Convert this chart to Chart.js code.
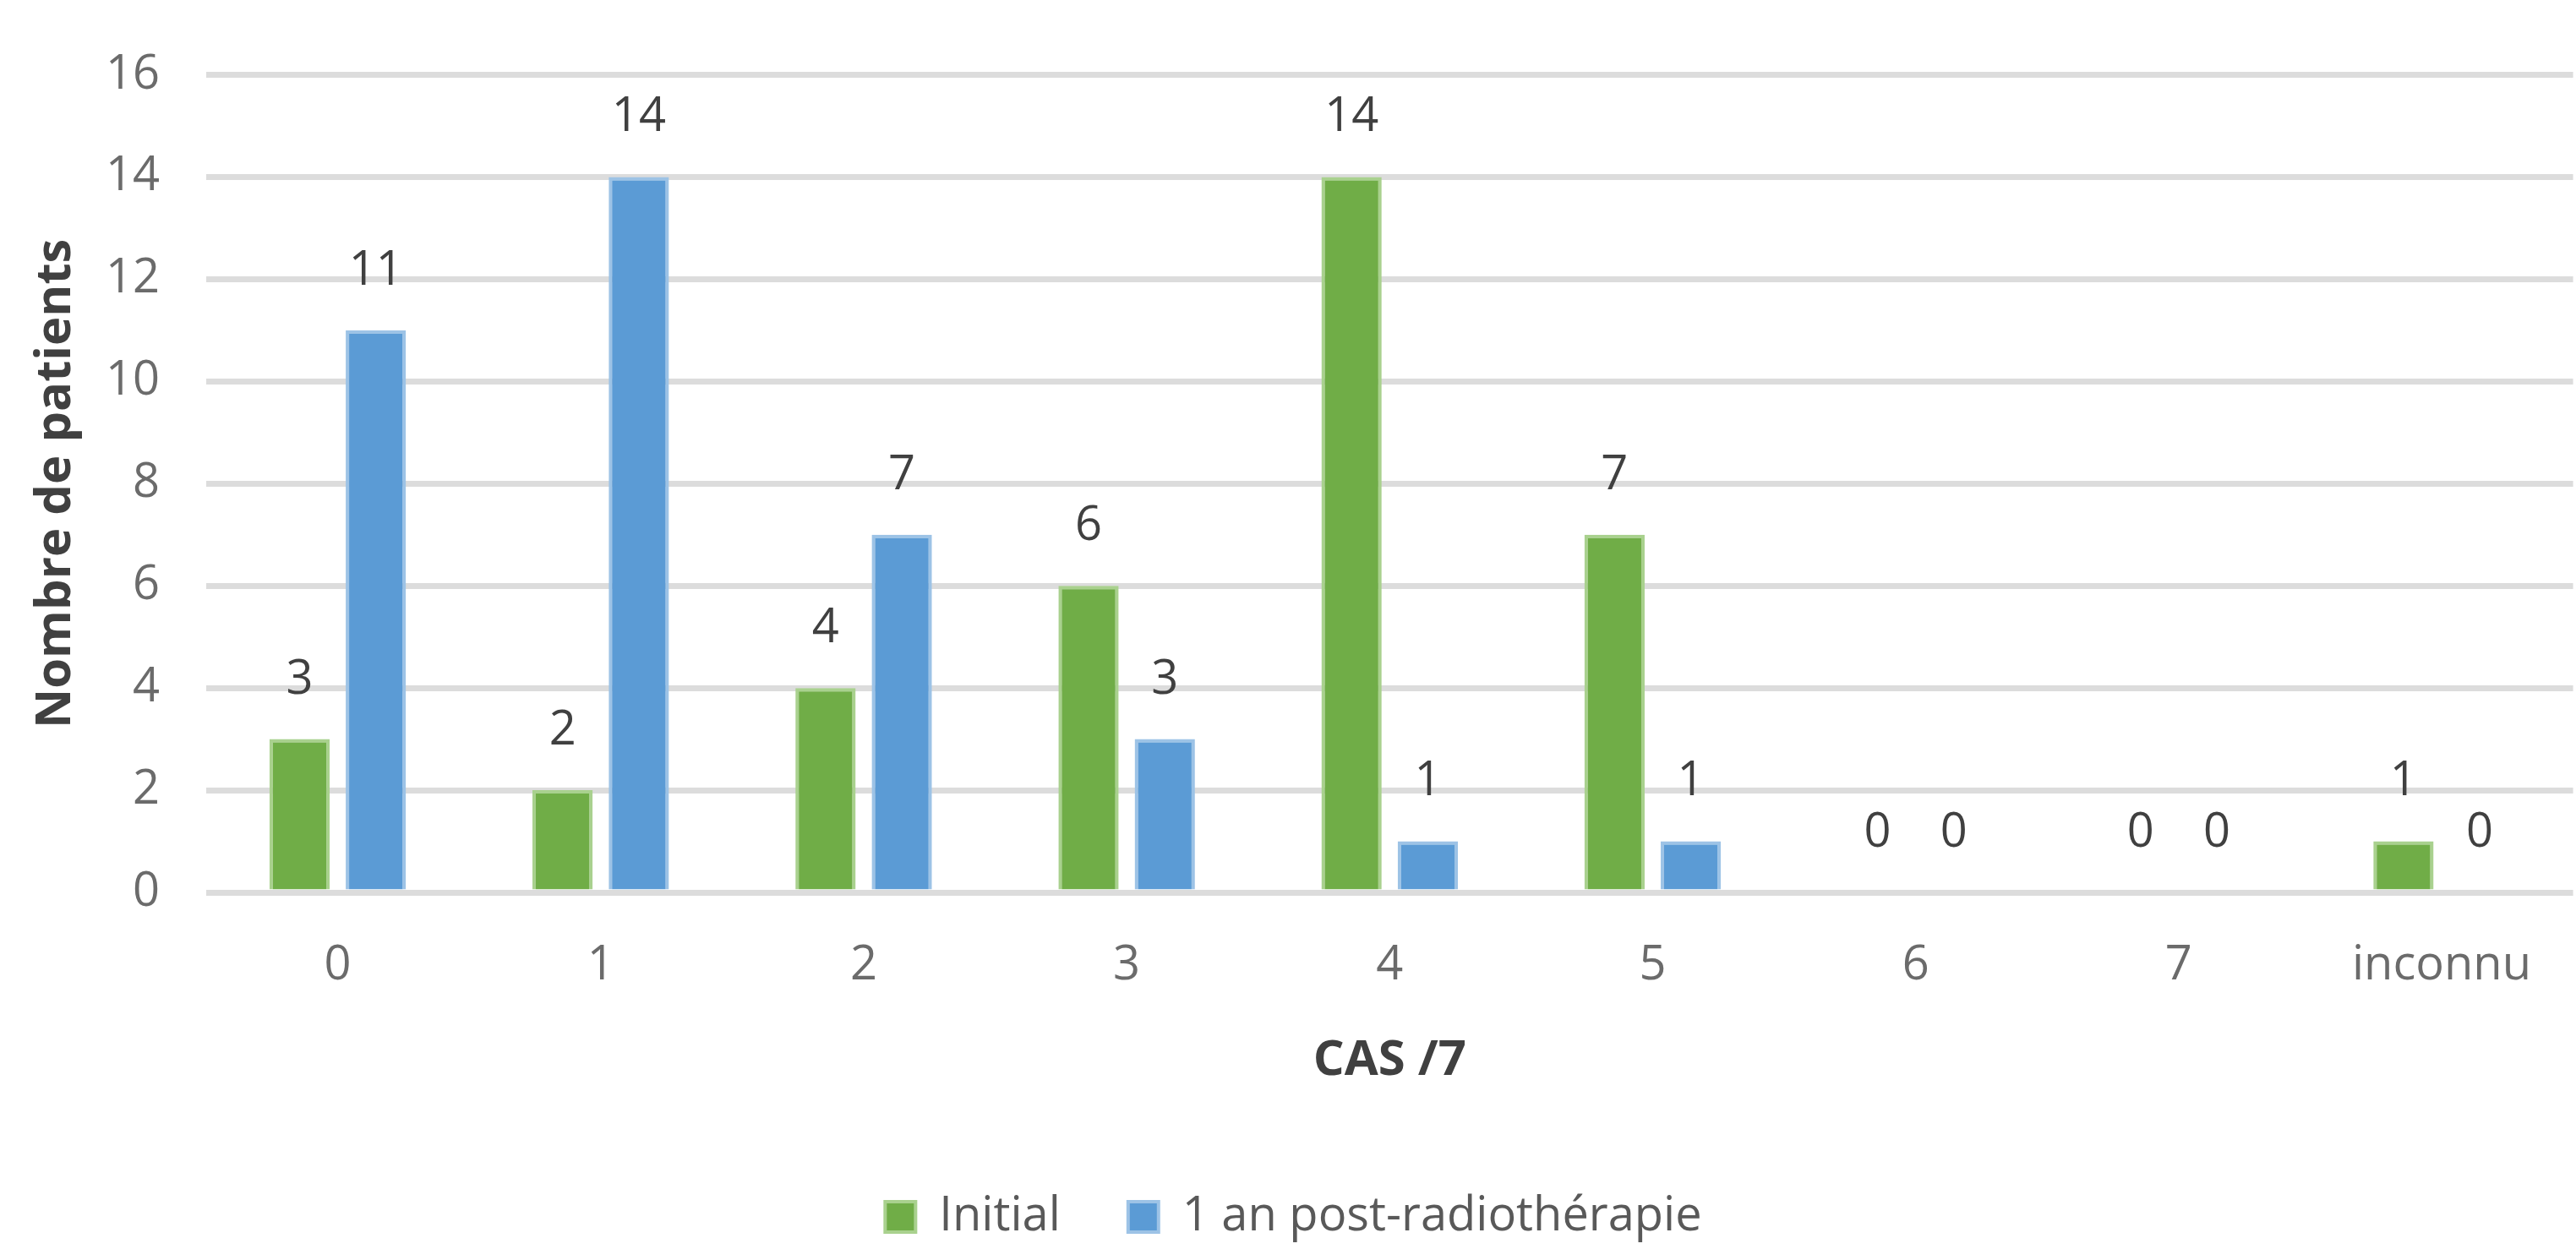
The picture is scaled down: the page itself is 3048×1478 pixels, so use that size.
<!DOCTYPE html>
<html lang="fr">
<head>
    <meta charset="UTF-8">
    <title>CAS /7 - Nombre de patients</title>
    <!-- Chart.js CDN -->
    <script src="https://cdn.jsdelivr.net/npm/chart.js"></script>
    <style>
        html, body { margin: 0; padding: 0; background: #ffffff; }
        .chart-box { width: 3048px; height: 1478px; }
    </style>
</head>
<body>
    <div class="chart-box"><canvas id="casChart"></canvas></div>

    <script>
        // Données
        const categories = ['0', '1', '2', '3', '4', '5', '6', '7', 'inconnu'];
        const seriesNames = ['Initial', '1 an post-radiothérapie'];
        const initialValues = [3, 2, 4, 6, 14, 7, 0, 0, 1];
        const postRadioValues = [11, 14, 7, 3, 1, 1, 0, 0, 0];
        const yTickValues = [0, 2, 4, 6, 8, 10, 12, 14, 16];

        const FONT = '"Open Sans", "DejaVu Sans", sans-serif';

        // Étiquettes de valeur au-dessus des barres
        const valueLabels = {
            id: 'valueLabels',
            afterDatasetsDraw(chart) {
                const ctx = chart.ctx;
                ctx.save();
                ctx.font = '56px ' + FONT;
                ctx.fillStyle = '#404040';
                ctx.textAlign = 'center';
                ctx.textBaseline = 'middle';
                chart.data.datasets.forEach((ds, i) => {
                    chart.getDatasetMeta(i).data.forEach((bar, j) => {
                        ctx.fillText(String(ds.data[j]), bar.x, bar.y - 70);
                    });
                });
                ctx.restore();
            }
        };

        const ctx = document.getElementById('casChart').getContext('2d');
        new Chart(ctx, {
            type: 'bar',
            data: {
                labels: categories,
                datasets: [{
                    label: seriesNames[0],
                    data: initialValues,
                    backgroundColor: '#70AD47',
                    borderColor: '#A9D18E',
                    borderWidth: 4,
                    categoryPercentage: 0.58,
                    barPercentage: 0.79
                }, {
                    label: seriesNames[1],
                    data: postRadioValues,
                    backgroundColor: '#5B9BD5',
                    borderColor: '#9DC3E6',
                    borderWidth: 4,
                    categoryPercentage: 0.58,
                    barPercentage: 0.79
                }]
            },
            options: {
                responsive: true,
                maintainAspectRatio: false,
                animation: false,
                layout: { padding: { top: 72, left: 0, right: -13, bottom: 0 } },
                scales: {
                    x: {
                        grid: { display: false, drawTicks: false },
                        border: { display: false },
                        ticks: { color: '#6b6b6b', padding: 53, font: { family: FONT, size: 56 } },
                        title: {
                            display: true,
                            text: 'CAS /7',
                            color: '#404040',
                            font: { family: FONT, size: 58, weight: 'bold' },
                            padding: { top: 0, bottom: 42 }
                        },
                        afterFit: (scale) => { scale.height = 276; }
                    },
                    y: {
                        min: 0,
                        max: 16,
                        afterBuildTicks: (scale) => { scale.ticks = yTickValues.map(v => ({ value: v })); },
                        grid: { color: '#dcdcdc', lineWidth: 7, drawTicks: false },
                        border: { display: false },
                        ticks: { color: '#6b6b6b', padding: 55, font: { family: FONT, size: 56 } },
                        title: {
                            display: true,
                            text: 'Nombre de patients',
                            color: '#404040',
                            font: { family: FONT, size: 58, weight: 'bold' },
                            padding: { top: 32, bottom: 0 }
                        },
                        afterFit: (scale) => { scale.width = 244; }
                    }
                },
                plugins: {
                    legend: {
                        position: 'bottom',
                        labels: {
                            color: '#595959',
                            boxWidth: 36,
                            boxHeight: 36,
                            padding: 80,
                            font: { family: FONT, size: 56 }
                        }
                    },
                    tooltip: { enabled: false }
                }
            },
            plugins: [valueLabels]
        });
    </script>
</body>
</html>
